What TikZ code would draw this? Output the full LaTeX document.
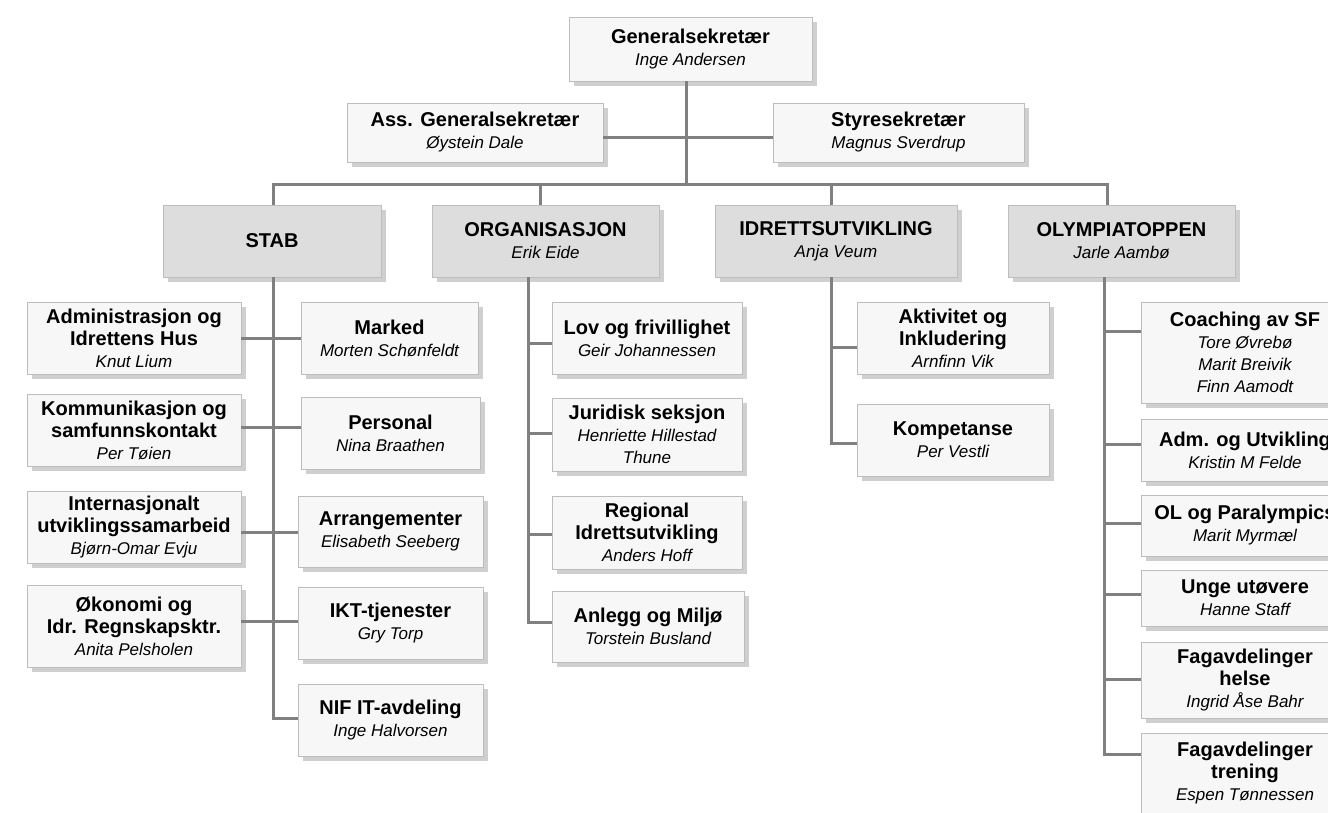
\documentclass[tikz,border=0pt]{standalone}
\usepackage{fontspec}
\setmainfont{Liberation Sans}
\usetikzlibrary{shadows}
\definecolor{linegray}{HTML}{808080}
\definecolor{framegray}{HTML}{BDBDBD}
\definecolor{shadegray}{HTML}{CFCFCF}
\definecolor{paper}{HTML}{F7F7F7}
\definecolor{deptgray}{HTML}{DDDDDD}
\newcommand{\hd}[1]{{\fontsize{20}{22}\selectfont\bfseries\upshape #1}}

\begin{document}
\begin{tikzpicture}[x=1pt, y=-1pt,
      every node/.style = {shape=rectangle, draw=framegray, line width=0.8pt,
        align=center, inner sep=0pt, fill=paper,
        font=\fontsize{17}{22}\selectfont\itshape,
        drop shadow={shadow xshift=5pt, shadow yshift=-5pt, fill=shadegray, opacity=1}},
      wh/.style 2 args = {minimum width=#1, minimum height=#2},
      dept/.style = {fill=deptgray},
      wire/.style = {draw=linegray, line width=3pt}]
      \useasboundingbox (0,0) rectangle (1328,812);
      \node[wh={243}{64}] (gen) at (690.5,49) {\hd{Generalsekretær}\\Inge Andersen};
      \node[wh={256}{59}] (ass) at (475,132.5) {\hd{Ass. Generalsekretær}\\Øystein Dale};
      \node[wh={251}{59}] (styre) at (898.5,132.5) {\hd{Styresekretær}\\Magnus Sverdrup};

      \node[dept, wh={218}{72}] (stab) at (272,241) {\hd{STAB}};
      \node[dept, wh={227}{72}] (org) at (545.5,241) {\hd{ORGANISASJON}\\Erik Eide};
      \node[dept, wh={242}{72}] (idr) at (836,241) {\hd{IDRETTSUTVIKLING}\\Anja Veum};
      \node[dept, wh={227}{72}] (oly) at (1121.5,241) {\hd{OLYMPIATOPPEN}\\Jarle Aambø};

      \node[wh={214}{72}] (adm) at (134,338) {\hd{Administrasjon og}\\\hd{Idrettens Hus}\\Knut Lium};
      \node[wh={214}{72}] (komm) at (134,430) {\hd{Kommunikasjon og}\\\hd{samfunnskontakt}\\Per Tøien};
      \node[wh={214}{72}] (intl) at (134,527) {\hd{Internasjonalt}\\\hd{utviklingssamarbeid}\\Bjørn-Omar Evju};
      \node[wh={214}{82}] (okon) at (134,626) {\hd{Økonomi og}\\\hd{Idr. Regnskapsktr.}\\Anita Pelsholen};
      \node[wh={177}{72}] (marked) at (389.5,338) {\hd{Marked}\\Morten Schønfeldt};
      \node[wh={179}{72}] (pers) at (390.5,433) {\hd{Personal}\\Nina Braathen};
      \node[wh={185}{71}] (arr) at (390.5,531.5) {\hd{Arrangementer}\\Elisabeth Seeberg};
      \node[wh={185}{72}] (ikt) at (390.5,623) {\hd{IKT-tjenester}\\Gry Torp};
      \node[wh={185}{72}] (nif) at (390.5,720) {\hd{NIF IT-avdeling}\\Inge Halvorsen};

      \node[wh={190}{72}] (lov) at (647,338) {\hd{Lov og frivillighet}\\Geir Johannessen};
      \node[wh={190}{73}] (jur) at (647,434.5) {\hd{Juridisk seksjon}\\Henriette Hillestad\\Thune};
      \node[wh={190}{73}] (reg) at (647,532.5) {\hd{Regional}\\\hd{Idrettsutvikling}\\Anders Hoff};
      \node[wh={192}{71}] (anl) at (648,626.5) {\hd{Anlegg og Miljø}\\Torstein Busland};

      \node[wh={192}{72}] (akt) at (953,338) {\hd{Aktivitet og}\\\hd{Inkludering}\\Arnfinn Vik};
      \node[wh={192}{72}] (komp) at (953,440) {\hd{Kompetanse}\\Per Vestli};

      \node[wh={208}{101}] (coach) at (1245,352.5) {\hd{Coaching av SF}\\Tore Øvrebø\\Marit Breivik\\Finn Aamodt};
      \node[wh={208}{62}] (admu) at (1245,450) {\hd{Adm. og Utvikling}\\Kristin M Felde};
      \node[wh={208}{61}] (ol) at (1245,525.5) {\hd{OL og Paralympics}\\Marit Myrmæl};
      \node[wh={208}{56}] (unge) at (1245,598) {\hd{Unge utøvere}\\Hanne Staff};
      \node[wh={208}{76}] (fagh) at (1245,680) {\hd{Fagavdelinger}\\\hd{helse}\\Ingrid Åse Bahr};
      \node[wh={208}{80}] (fagt) at (1245,773) {\hd{Fagavdelinger}\\\hd{trening}\\Espen Tønnessen};

      \draw[wire] ([xshift=-4.5pt]gen.south) -- ++(0,104);
      \draw[wire] ([yshift=-4.5pt]ass.east) -- ([yshift=-4.5pt]styre.west);
      \draw[wire] ([xshift=1pt]stab.north) -- ++(0,-20) -| ([xshift=-14.5pt]oly.north);
      \draw[wire] ([xshift=-5.5pt]org.north) -- ++(0,-20);
      \draw[wire] ([xshift=-5pt]idr.north) -- ++(0,-20);

      \draw[wire] ([xshift=1pt]stab.south) |- ([yshift=2pt]nif.west);
      \draw[wire] (adm.east) -- (marked.west);
      \draw[wire] ([yshift=3pt]komm.east) -- ([yshift=3pt]komm.east -| pers.west);
      \draw[wire] ([yshift=-0.5pt]arr.west) -- ([yshift=-0.5pt]arr.west -| intl.east);
      \draw[wire] ([yshift=2pt]ikt.west) -- ([yshift=2pt]ikt.west -| okon.east);

      \coordinate (orgT) at ([xshift=-17.5pt]org.south);
      \draw[wire] (orgT) |- ([yshift=4.5pt]anl.west);
      \foreach \n/\s in {lov/-5, jur/1.5, reg/-1.5}
        \draw[wire] ([yshift=\s pt]\n.west) -- ([yshift=\s pt]\n.west -| orgT);

      \coordinate (idrT) at ([xshift=-5pt]idr.south);
      \draw[wire] (idrT) |- ([yshift=-3pt]komp.west);
      \draw[wire] ([yshift=-9pt]akt.west) -- ([yshift=-9pt]akt.west -| idrT);

      \coordinate (olyT) at ([xshift=-17.5pt]oly.south);
      \draw[wire] (olyT) |- ([yshift=19pt]fagt.west);
      \foreach \n/\s in {coach/21.5, admu/6, ol/2.5, unge/4, fagh/1}
        \draw[wire] ([yshift=\s pt]\n.west) -- ([yshift=\s pt]\n.west -| olyT);
\end{tikzpicture}
\end{document}
